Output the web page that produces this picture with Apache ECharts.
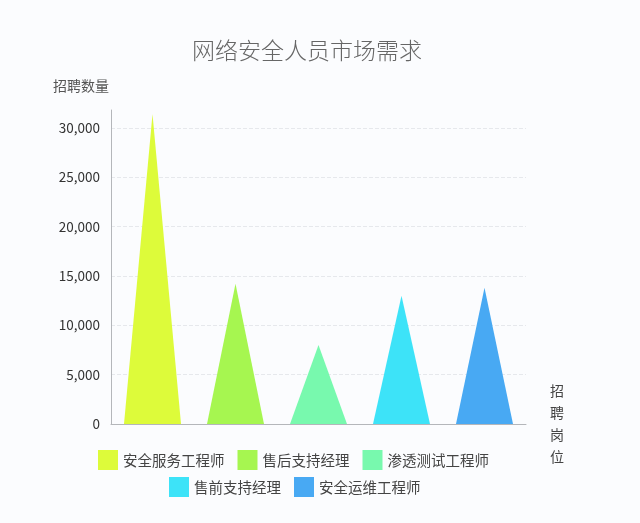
<!DOCTYPE html>
<html>
<head>
<meta charset="utf-8">
<script src="https://cdn.jsdelivr.net/npm/echarts@6/dist/echarts.min.js"></script>
<style>
  html, body { margin: 0; padding: 0; background: #fbfcfe; }
  #main { width: 640px; height: 523px; }
</style>
</head>
<body>
<div id="main"></div>
<script>
// 招聘岗位
var jobs = ['安全服务工程师', '售后支持经理', '渗透测试工程师', '售前支持经理', '安全运维工程师'];
// 招聘数量
var demand = [31400, 14200, 8000, 13000, 13800];
var palette = ['#ddfb3a', '#a6f650', '#78f9ae', '#3de3f8', '#48a9f3'];

var chart = echarts.init(document.getElementById('main'));

var series = jobs.map(function (name, i) {
  return {
    name: name,
    type: 'pictorialBar',
    barGap: '-100%',
    barWidth: 57,
    symbol: 'triangle',
    symbolSize: [57, '100%'],
    itemStyle: { color: palette[i] },
    data: jobs.map(function (_, j) { return j === i ? demand[i] : '-'; })
  };
});

var option = {
  backgroundColor: '#fbfcfe',
  textStyle: { fontFamily: 'Noto Sans CJK SC' },
  title: {
    text: '网络安全人员市场需求',
    left: 302,
    textAlign: 'center',
    top: 34,
    textStyle: { fontSize: 23, fontWeight: 300, color: '#666', fontFamily: 'Noto Sans CJK SC' }
  },
  legend: [
    {
      data: jobs.slice(0, 3),
      left: 98,
      top: 450,
      padding: 0,
      icon: 'rect',
      itemWidth: 20,
      itemHeight: 20,
      itemGap: 13,
      textStyle: { fontSize: 14.5, color: '#444' }
    },
    {
      data: jobs.slice(3),
      left: 169,
      top: 477,
      padding: 0,
      icon: 'rect',
      itemWidth: 20,
      itemHeight: 20,
      itemGap: 13,
      textStyle: { fontSize: 14.5, color: '#444' }
    }
  ],
  grid: { left: 111, right: 114, top: 110, bottom: 99, containLabel: false },
  xAxis: {
    type: 'category',
    data: jobs,
    name: '招\n聘\n岗\n位',
    nameLocation: 'end',
    nameGap: 24,
    nameTextStyle: { fontSize: 14, color: '#444', lineHeight: 22, padding: [12, 0, 0, 0] },
    axisLine: { lineStyle: { color: '#b4b6ba', width: 1 } },
    axisTick: { show: false },
    axisLabel: { show: false },
    splitLine: { show: false }
  },
  yAxis: {
    type: 'value',
    min: 0,
    max: 31800,
    interval: 5000,
    name: '招聘数量',
    nameLocation: 'end',
    nameGap: 17,
    nameTextStyle: { fontSize: 14, color: '#555', align: 'right', padding: [0, 2, 0, 0] },
    axisLine: { show: true, lineStyle: { color: '#b4b6ba', width: 1 } },
    axisTick: { show: false },
    axisLabel: { fontSize: 13.5, color: '#333', margin: 11, showMaxLabel: false },
    splitLine: { show: true, showMaxLine: false, lineStyle: { color: '#e6e8ec', type: 'dashed' } }
  },
  series: series
};

chart.setOption(option);
</script>
</body>
</html>
